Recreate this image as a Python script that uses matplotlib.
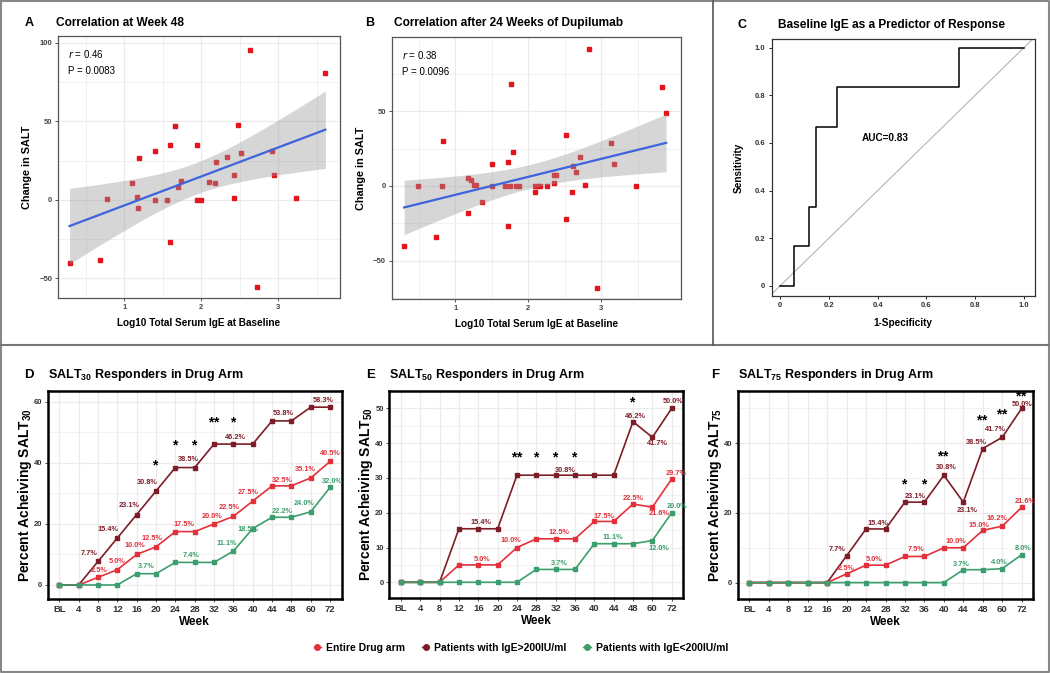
import numpy as np
import matplotlib
matplotlib.use('Agg')
import matplotlib.pyplot as plt
from matplotlib.lines import Line2D
from matplotlib.ticker import MultipleLocator, FixedLocator

plt.rcParams['font.family'] = ['Liberation Sans', 'DejaVu Sans']
plt.rcParams['mathtext.fontset'] = 'custom'
plt.rcParams['mathtext.bf'] = 'Liberation Sans:bold'
plt.rcParams['mathtext.rm'] = 'Liberation Sans'

W, H = 1050, 673

# ---- A: change in SALT at week 48 vs log10 IgE
a_x = [0.29, 0.68, 0.77, 1.10, 1.16, 1.18, 1.19, 1.40, 1.40, 1.56, 1.60, 1.60, 1.66, 1.70, 1.73, 1.95,
       1.95, 2.00, 2.10, 2.18, 2.19, 2.33, 2.42, 2.43, 2.47, 2.52, 2.63, 2.72, 2.92, 2.94, 3.23, 3.61]
a_y = [-40.3, -38.2, 0.8, 10.4, 1.5, -5.3, 26.5, 31.0, -0.4, 0.0, 34.6, -26.8, 46.9, 8.0, 11.7, 34.8,
       0.0, 0.0, 11.3, 11.0, 24.0, 27.4, 1.0, 16.0, 47.8, 30.1, 95.3, -55.2, 31.4, 15.7, 1.0, 80.7]

# ---- B: change in SALT after 24 weeks vs log10 IgE
b_x = [0.30, 0.49, 0.735, 0.82, 0.83, 1.18, 1.18, 1.21, 1.26, 1.28, 1.37, 1.51, 1.51, 1.68, 1.73,
       1.73, 1.76, 1.75, 1.79, 1.83, 1.87, 2.09, 2.10, 2.14, 2.16, 2.26, 2.36, 2.35, 2.38, 2.52, 2.52,
       2.60, 2.62, 2.66, 2.71, 2.78, 2.83, 2.94, 3.14, 3.17, 3.48, 3.84, 3.89]
b_y = [-40.0, 0.0, -33.8, 0.0, 30.0, -17.8, 5.6, 4.0, 0.7, 0.7, -10.9, 14.7, 0.0, 0.0, 16.2,
       -26.7, 68.2, 0.0, 22.4, 0.0, 0.0, -3.8, 0.0, 0.0, 0.0, 0.0, 1.8, 7.3, 7.3, -22.2, 34.0,
       -3.8, 13.6, 9.6, 19.1, 0.4, 91.6, -67.8, 28.4, 14.7, 0.0, 66.2, 48.4]

# ---- C: ROC curve
roc_fpr = [0, 0.059, 0.059, 0.118, 0.118, 0.147, 0.147, 0.235, 0.235, 0.735, 0.735, 1.0]
roc_tpr = [0, 0, 0.167, 0.167, 0.333, 0.333, 0.667, 0.667, 0.833, 0.833, 1.0, 1.0]
auc_txt = 'AUC=0.83'

# ---- D/E/F: responders by week
weeks = ['BL', '4', '8', '12', '16', '20', '24', '28', '32', '36', '40', '44', '48', '60', '72']

d_entire = [0, 0, 2.5, 5.0, 10.0, 12.5, 17.5, 17.5, 20.0, 22.5, 27.5, 32.5, 32.5, 35.1, 40.5]
d_high = [0, 0, 7.7, 15.4, 23.1, 30.8, 38.5, 38.5, 46.2, 46.2, 46.2, 53.8, 53.8, 58.3, 58.3]
d_low = [0, 0, 0, 0, 3.7, 3.7, 7.4, 7.4, 7.4, 11.1, 18.5, 22.2, 22.2, 24.0, 32.0]

e_entire = [0, 0, 0, 5.0, 5.0, 5.0, 10.0, 12.5, 12.5, 12.5, 17.5, 17.5, 22.5, 21.6, 29.7]
e_high = [0, 0, 0, 15.4, 15.4, 15.4, 30.8, 30.8, 30.8, 30.8, 30.8, 30.8, 46.2, 41.7, 50.0]
e_low = [0, 0, 0, 0, 0, 0, 0, 3.7, 3.7, 3.7, 11.1, 11.1, 11.1, 12.0, 20.0]

f_entire = [0, 0, 0, 0, 0, 2.5, 5.0, 5.0, 7.5, 7.5, 10.0, 10.0, 15.0, 16.2, 21.6]
f_high = [0, 0, 0, 0, 0, 7.7, 15.4, 15.4, 23.1, 23.1, 30.8, 23.1, 38.5, 41.7, 50.0]
f_low = [0, 0, 0, 0, 0, 0, 0, 0, 0, 0, 0, 3.7, 3.7, 4.0, 8.0]

# percent labels: (x slot, value, vertical offset in pt)
d_high_lbl = [(1.53, 7.7, 5.8), (2.53, 15.4, 5.8), (3.62, 23.1, 6.2), (4.57, 30.8, 5.8),
              (6.67, 38.5, 5.5), (9.09, 46.2, 5), (11.59, 53.8, 5), (13.62, 58.3, 4.5)]
d_entire_lbl = [(2.05, 2.5, 5), (2.97, 5.0, 6.2), (3.91, 10.0, 6.1), (4.78, 12.5, 6.1),
                (6.45, 17.5, 5), (7.91, 20.0, 5.1), (8.78, 22.5, 6.5), (9.78, 27.5, 6.2),
                (11.55, 32.5, 4.1), (12.71, 35.1, 5.8), (14.0, 40.5, 5.4)]
d_low_lbl = [(4.52, 3.7, 5), (6.81, 7.4, 5.2), (8.66, 11.1, 5.2), (9.75, 18.5, -1),
             (11.52, 22.2, 4.5), (12.66, 24.0, 6.2), (14.09, 32.0, 4.1)]

e_high_lbl = [(4.15, 15.4, 4.6), (8.49, 30.8, 3.1), (12.15, 46.2, 3.6), (13.27, 41.7, -4.8),
              (14.05, 50.0, 4.8)]
e_entire_lbl = [(4.19, 5.0, 4.1), (5.66, 10.0, 5.0), (8.17, 12.5, 4.7), (10.5, 17.5, 3.4),
                (12.01, 22.5, 4.1), (13.36, 21.6, -4.4), (14.22, 29.7, 4.1)]
e_low_lbl = [(8.17, 3.7, 4.3), (10.93, 11.1, 4.6), (13.36, 12.0, -5.5), (14.3, 20.0, 4.3)]

f_high_lbl = [(4.53, 7.7, 4.2), (6.59, 15.4, 4.1), (8.54, 23.1, 4.0), (10.12, 30.8, 5.8),
              (11.2, 23.1, -6.1), (11.67, 38.5, 4.2), (12.65, 41.7, 5.4), (14.03, 50.0, 2.9)]
f_entire_lbl = [(4.96, 2.5, 4.1), (6.42, 5.0, 3.8), (8.57, 7.5, 4.7), (10.64, 10.0, 4.4),
                (11.79, 15.0, 3.8), (12.75, 16.2, 5.7), (14.16, 21.6, 4.2)]
f_low_lbl = [(10.9, 3.7, 3.8), (12.87, 4.0, 4.3), (14.08, 8.0, 4.7)]

# significance marks: (x slot, mark, y)
d_sig = [(5, '*', 39.6), (6, '*', 46.1), (7, '*', 46.1), (8, '**', 53.6), (9, '*', 53.6)]
e_sig = [(6, '**', 36.1), (7, '*', 36.1), (8, '*', 36.1), (9, '*', 36.1), (12, '*', 52.0)]
f_sig = [(8, '*', 28.5), (9, '*', 28.5), (10, '**', 36.6), (12, '**', 46.7), (13, '**', 48.6),
         (14, '**', 53.6)]

C_ENTIRE = '#e3303b'
C_HIGH = '#7d1d28'
C_LOW = '#3c9e6c'
GRID = '#ebebeb'


def rect(l, t, r, b):
    return [l / W, 1 - b / H, (r - l) / W, (b - t) / H]


def ftext(x, y, s, **kw):
    fig.text(x / W, 1 - y / H, s, **kw)


def fline(xs, ys, **kw):
    fig.add_artist(Line2D([v / W for v in xs], [1 - v / H for v in ys],
                          transform=fig.transFigure, **kw))


def grid_style(ax, border_color, border_w):
    ax.set_axisbelow(True)
    ax.grid(True, which='major', color=GRID, lw=0.9)
    ax.grid(True, which='minor', color=GRID, lw=0.5)
    for sp in ax.spines.values():
        sp.set_color(border_color)
        sp.set_linewidth(border_w)
    ax.tick_params(which='major', length=2.5, width=0.6, color='#333333', pad=1.5)
    ax.tick_params(which='minor', length=0)


def smooth(ax, x, y, tval):
    x = np.asarray(x)
    y = np.asarray(y)
    b1, b0 = np.polyfit(x, y, 1)
    xs = np.linspace(x.min(), x.max(), 80)
    n = len(x)
    s = np.sqrt(((y - (b0 + b1 * x)) ** 2).sum() / (n - 2))
    se = s * np.sqrt(1 / n + (xs - x.mean()) ** 2 / ((x - x.mean()) ** 2).sum())
    fit = b0 + b1 * xs
    ax.fill_between(xs, fit - tval * se, fit + tval * se, color='#999999', alpha=0.4, lw=0, zorder=3)
    ax.plot(xs, fit, color='#3d63dd', lw=1.6, zorder=4)


def scatter_panel(ax, x, y, tval, xlim, ylim, stats):
    ax.plot(x, y, 's', ms=3.2, color='#e5131c', zorder=2)
    smooth(ax, x, y, tval)
    ax.set_xlim(*xlim)
    ax.set_ylim(*ylim)
    ax.xaxis.set_major_locator(FixedLocator([1, 2, 3]))
    ax.xaxis.set_minor_locator(FixedLocator([0.5, 1.5, 2.5, 3.5]))
    ax.yaxis.set_major_locator(MultipleLocator(50))
    ax.yaxis.set_minor_locator(MultipleLocator(25))
    grid_style(ax, '#555555', 0.9)
    for lab in ax.get_xticklabels() + ax.get_yticklabels():
        lab.set_fontsize(5.5)
        lab.set_fontweight('bold')
        lab.set_color('#444444')
    ax.set_xlabel('Log10 Total Serum IgE at Baseline', fontsize=7.2, fontweight='bold', labelpad=5)
    ax.set_ylabel('Change in SALT', fontsize=7.8, fontweight='bold', labelpad=5)
    ax.text(0.035, 0.93, '$\\it{r}$ = ' + stats[0], transform=ax.transAxes, fontsize=7, va='center')
    ax.text(0.035, 0.865, 'P = ' + stats[1], transform=ax.transAxes, fontsize=7, va='center')


def responder_panel(ax, series, labels, sig, ylim, ymajor, sub):
    pos = np.arange(len(weeks))
    for vals, col in series:
        ax.plot(pos, vals, '-s', color=col, lw=1.2, ms=3, zorder=3)
    for lbls, col in labels:
        for xp, v, dy in lbls:
            ax.annotate('%.1f%%' % v, (xp, v), xytext=(0, dy), textcoords='offset points',
                        ha='center', va='center', fontsize=5.3, fontweight='bold', color=col)
    for xp, mark, yv in sig:
        # braces keep mathtext from spacing the asterisks like binary operators
        star = '$\\mathbf{' + ''.join('{*}' for _ in mark) + '}$'
        ax.text(xp, yv, star, ha='center', va='center', fontsize=10, color='black')
    ax.set_xlim(-0.6, len(weeks) - 0.4)
    ax.set_ylim(*ylim)
    ax.set_xticks(pos)
    ax.set_xticklabels(weeks)
    ax.yaxis.set_major_locator(MultipleLocator(ymajor))
    ax.yaxis.set_minor_locator(MultipleLocator(ymajor / 2))
    grid_style(ax, 'black', 1.8)
    for lab in ax.get_xticklabels():
        lab.set_fontsize(6.8)
        lab.set_fontweight('bold')
        lab.set_color('#333333')
    for lab in ax.get_yticklabels():
        lab.set_fontsize(5.5)
        lab.set_fontweight('bold')
        lab.set_color('#333333')
    ax.set_xlabel('Week', fontsize=8.5, fontweight='bold', labelpad=1.5)
    ax.set_ylabel('Percent Acheiving SALT$_{\\mathbf{%s}}$' % sub, fontsize=10, fontweight='bold', labelpad=0)


fig = plt.figure(figsize=(W / 100, H / 100), dpi=100)

# A
ax_a = fig.add_axes(rect(58, 36, 340, 298))
scatter_panel(ax_a, a_x, a_y, 2.042, (0.14, 3.8), (-62.5, 104.3), ('0.46', '0.0083'))
ftext(25, 23, 'A', fontsize=9, fontweight='bold', va='center')
ftext(56, 23, 'Correlation at Week 48', fontsize=8.6, fontweight='bold', va='center')

# B
ax_b = fig.add_axes(rect(391.7, 36.7, 680.7, 299.3))
scatter_panel(ax_b, b_x, b_y, 2.018, (0.13, 4.09), (-75.6, 99.6), ('0.38', '0.0096'))
ftext(365, 23, 'B', fontsize=9, fontweight='bold', va='center')
ftext(394, 23, 'Correlation after 24 Weeks of Dupilumab', fontsize=8.6, fontweight='bold', va='center')

# C
ax_c = fig.add_axes(rect(771.7, 39, 1035, 296))
ax_c.plot(roc_fpr, roc_tpr, color='black', lw=1.1, zorder=3)
ax_c.axline((0, 0), (1, 1), color='#b5b5b5', lw=0.8, zorder=2)
ax_c.set_xlim(-0.034, 1.045)
ax_c.set_ylim(-0.042, 1.036)
ax_c.xaxis.set_major_locator(FixedLocator([0, 0.2, 0.4, 0.6, 0.8, 1.0]))
ax_c.yaxis.set_major_locator(FixedLocator([0, 0.2, 0.4, 0.6, 0.8, 1.0]))
ax_c.set_xticklabels(['0', '0.2', '0.4', '0.6', '0.8', '1.0'])
ax_c.set_yticklabels(['0', '0.2', '0.4', '0.6', '0.8', '1.0'])
for sp in ax_c.spines.values():
    sp.set_color('#333333')
    sp.set_linewidth(0.9)
ax_c.tick_params(length=2.5, width=0.6, pad=2)
for lab in ax_c.get_xticklabels() + ax_c.get_yticklabels():
    lab.set_fontsize(5.5)
    lab.set_fontweight('bold')
    lab.set_color('#333333')
ax_c.text(0.433, 0.62, auc_txt, ha='center', va='center', fontsize=7.2, fontweight='bold')
ax_c.set_xlabel('1-Specificity', fontsize=7.2, fontweight='bold', labelpad=6)
ax_c.set_ylabel('Sensitivity', fontsize=7.2, fontweight='bold', labelpad=8)
ftext(737, 25, 'C', fontsize=9, fontweight='bold', va='center')
ftext(891.5, 25, 'Baseline IgE as a Predictor of Response', fontsize=8.6, fontweight='bold',
      va='center', ha='center')

# D / E / F
ax_d = fig.add_axes(rect(47.7, 390.7, 341.7, 599.3))
responder_panel(ax_d, [(d_entire, C_ENTIRE), (d_high, C_HIGH), (d_low, C_LOW)],
                [(d_entire_lbl, C_ENTIRE), (d_high_lbl, C_HIGH), (d_low_lbl, C_LOW)],
                d_sig, (-4.7, 63.7), 20, '30')
ftext(24, 375, 'D', fontsize=9.5, fontweight='bold', va='center')
ftext(48, 375, 'SALT$_{\\mathbf{30}}$ Responders in Drug Arm', fontsize=9, fontweight='bold', va='center')

ax_e = fig.add_axes(rect(389.3, 390.7, 683.3, 598.3))
responder_panel(ax_e, [(e_entire, C_ENTIRE), (e_high, C_HIGH), (e_low, C_LOW)],
                [(e_entire_lbl, C_ENTIRE), (e_high_lbl, C_HIGH), (e_low_lbl, C_LOW)],
                e_sig, (-4.6, 55.1), 10, '50')
ftext(366, 375, 'E', fontsize=9.5, fontweight='bold', va='center')
ftext(389, 375, 'SALT$_{\\mathbf{50}}$ Responders in Drug Arm', fontsize=9, fontweight='bold', va='center')

ax_f = fig.add_axes(rect(737.7, 390.7, 1033.3, 599.3))
responder_panel(ax_f, [(f_entire, C_ENTIRE), (f_high, C_HIGH), (f_low, C_LOW)],
                [(f_entire_lbl, C_ENTIRE), (f_high_lbl, C_HIGH), (f_low_lbl, C_LOW)],
                f_sig, (-4.8, 55.1), 20, '75')
ftext(711, 375, 'F', fontsize=9.5, fontweight='bold', va='center')
ftext(738, 375, 'SALT$_{\\mathbf{75}}$ Responders in Drug Arm', fontsize=9, fontweight='bold', va='center')

# legend
handles = [Line2D([], [], color=c, marker='o', ms=4, lw=1) for c in (C_ENTIRE, C_HIGH, C_LOW)]
fig.legend(handles, ['Entire Drug arm', 'Patients with IgE>200IU/ml', 'Patients with IgE<200IU/ml'],
           loc='center', bbox_to_anchor=(521 / W, 1 - 648 / H), ncol=3, frameon=False,
           prop={'size': 7.5, 'weight': 'bold'}, handlelength=0.7, handletextpad=0.5, columnspacing=1.6)

# panel frames
fline([1, 1049, 1049, 1, 1], [1, 1, 672, 672, 1], color='#888888', lw=1.5)
fline([1, 1049], [345, 345], color='#777777', lw=1.5)
fline([712.7, 712.7], [1, 345], color='#555555', lw=1.2)

fig.savefig('out.png', dpi=100)
